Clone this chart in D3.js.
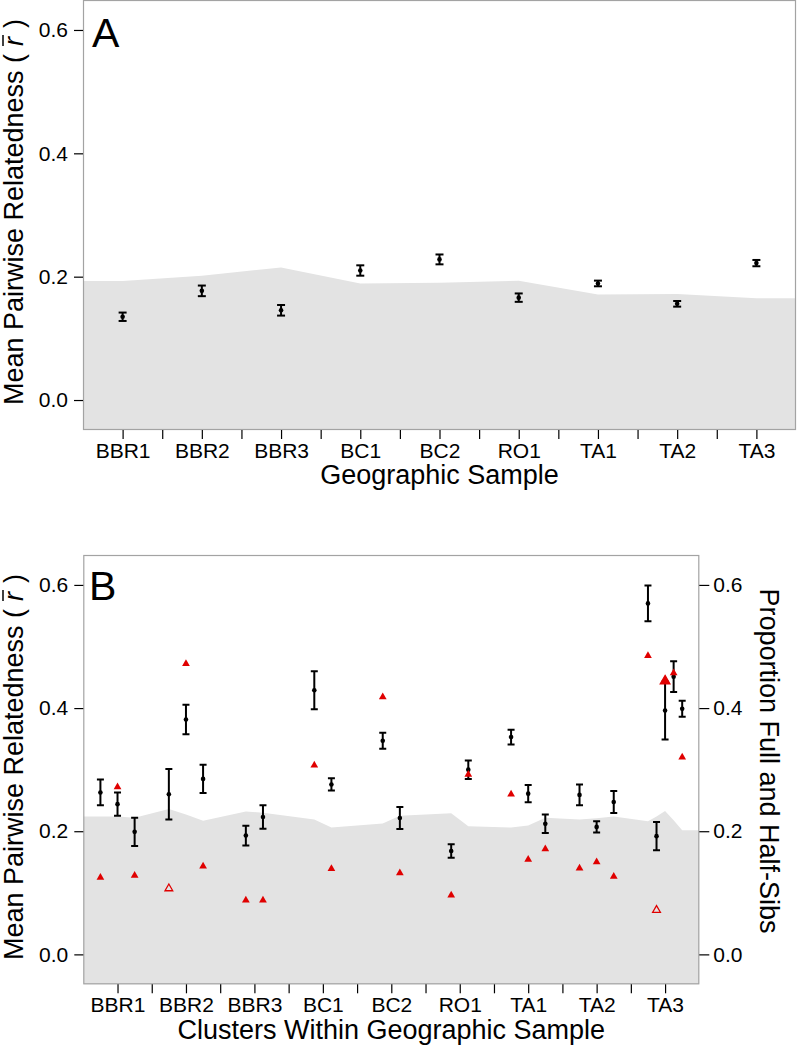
<!DOCTYPE html>
<html><head><meta charset="utf-8">
<script src="https://cdn.jsdelivr.net/npm/d3@7"></script>
<style>
body{margin:0;background:#fff}
svg{display:block}
text{font-family:"Liberation Sans",Arial,Helvetica,sans-serif;fill:#000}
</style>
</head><body>
<svg id="chart" width="797" height="1055"></svg>
<script>
// ---------- data ----------
const geoSamples = ["BBR1","BBR2","BBR3","BC1","BC2","RO1","TA1","TA2","TA3"];
const geoMean = [0.135,0.177,0.1455,0.210,0.228,0.166,0.189,0.156,0.222];
const geoErr = [0.0068,0.0086,0.0086,0.0084,0.008,0.0068,0.0046,0.0046,0.0051];
const geoNullUpper = [0.193,0.2016,0.215,0.189,0.190,0.1935,0.171,0.172,0.165];

const clusterSample = ["BBR1","BBR1","BBR1","BBR2","BBR2","BBR2","BBR3","BBR3","BC1","BC1","BC2","BC2","RO1","RO1","TA1","TA1","TA1","TA2","TA2","TA2","TA3","TA3","TA3","TA3","TA3"];
const clusterOffset = [-0.5,0,0.5,-0.5,0,0.5,-0.25,0.25,-0.25,0.25,-0.25,0.25,-0.25,0.25,-0.5,0,0.5,-0.5,0,0.5,-0.5,-0.25,0,0.25,0.5];
const clusterMean = [0.263,0.244,0.199,0.260,0.3815,0.285,0.193,0.223,0.429,0.276,0.347,0.2215,0.168,0.300,0.353,0.261,0.212,0.259,0.207,0.2475,0.570,0.192,0.396,0.451,0.399];
const clusterErr = [0.021,0.019,0.023,0.041,0.024,0.023,0.016,0.019,0.031,0.010,0.013,0.018,0.011,0.015,0.012,0.014,0.015,0.017,0.009,0.018,0.029,0.023,0.047,0.025,0.013];
const clusterNullUpper = [0.224,0.224,0.222,0.236,0.227,0.217,0.232,0.230,0.219,0.206,0.2125,0.225,0.229,0.208,0.206,0.2095,0.222,0.219,0.221,0.224,0.216,0.224,0.233,0.218,0.2015];
const sibProportion = [0.125,0.272,0.128,0.107,0.472,0.143,0.088,0.088,0.307,0.139,0.418,0.132,0.096,0.292,0.260,0.154,0.171,0.140,0.150,0.1265,0.485,0.072,0.444,0.457,0.320];
const sibMarker = ["filled","filled","filled","open","filled","filled","filled","filled","filled","filled","filled","filled","filled","filled","filled","filled","filled","filled","filled","filled","filled","open","both","filled","filled"];

const yTicks = [0, 0.2, 0.4, 0.6];
const yDomain = [-0.0486, 0.6486];
const xDomain = [0, 18];

// ---------- helpers ----------
const svg = d3.select("#chart");
const RED = "#e00000";
const TICK_FS = 21;
const sampleX = s => 2 * geoSamples.indexOf(s) + 1;
const xTickValues = d3.range(1, 18);
const xTickFormat = v => (v % 2 ? geoSamples[(v - 1) / 2] : "");

function styleAxis(g) {
  g.select(".domain").remove();
  g.selectAll(".tick line").attr("stroke", "#000").attr("stroke-width", 1.2);
  g.selectAll(".tick text").style("font-size", TICK_FS + "px").attr("fill", "#000");
}

function drawPanel(id, x, y, ribbonPts, points, capW) {
  const [x0, x1] = x.range();
  const [yb, yt] = y.range();
  svg.append("clipPath").attr("id", id).append("rect")
    .attr("x", x0).attr("y", yt).attr("width", x1 - x0).attr("height", yb - yt);
  const g = svg.append("g").attr("clip-path", `url(#${id})`);
  const area = d3.area().x(d => x(d.x)).y0(yb + 5).y1(d => y(d.v));
  g.append("path").datum(ribbonPts).attr("d", area).attr("fill", "#e3e3e3");

  const eb = g.selectAll("g.eb").data(points).join("g");
  eb.append("line").attr("x1", d => x(d.x)).attr("x2", d => x(d.x))
    .attr("y1", d => y(d.m - d.e)).attr("y2", d => y(d.m + d.e))
    .attr("stroke", "#000").attr("stroke-width", 2);
  [-1, 1].forEach(s => {
    eb.append("line").attr("x1", d => x(d.x) - capW / 2).attr("x2", d => x(d.x) + capW / 2)
      .attr("y1", d => y(d.m + s * d.e)).attr("y2", d => y(d.m + s * d.e))
      .attr("stroke", "#000").attr("stroke-width", 2);
  });
  eb.append("circle").attr("cx", d => x(d.x)).attr("cy", d => y(d.m)).attr("r", 2.3).attr("fill", "#000");
  return g;
}

function drawFrame(x, y) {
  const [x0, x1] = x.range();
  const [yb, yt] = y.range();
  svg.append("rect").attr("x", x0 + 0.5).attr("y", yt + 0.5)
    .attr("width", x1 - x0 - 1).attr("height", yb - yt - 1)
    .attr("fill", "none").attr("stroke", "#a3a3a3").attr("stroke-width", 1.2);
}

function yTitle(cx, cy) {
  const g = svg.append("g").attr("transform", `translate(${cx},${cy}) rotate(-90)`);
  const t = g.append("text").attr("text-anchor", "middle").style("font-size", "27px");
  const first = "Mean Pairwise Relatedness (";
  t.append("tspan").text(first);
  t.append("tspan").attr("dx", 8).style("font-style", "italic").text("r");
  t.append("tspan").attr("dx", 9).text(")");
  const ext = t.node().getExtentOfChar(first.length);
  g.append("line").attr("x1", ext.x).attr("x2", ext.x + ext.width + 2)
    .attr("y1", -20).attr("y2", -20).attr("stroke", "#000").attr("stroke-width", 1.5);
}

// ---------- Panel A ----------
const xA = d3.scaleLinear().domain(xDomain).range([83, 796]);
const yA = d3.scaleLinear().domain(yDomain).range([430, 0]);
const ribbonA = [{x: xDomain[0], v: geoNullUpper[0]}]
  .concat(geoSamples.map((s, i) => ({x: sampleX(s), v: geoNullUpper[i]})))
  .concat([{x: xDomain[1], v: geoNullUpper[geoNullUpper.length - 1]}]);
const ptsA = geoSamples.map((s, i) => ({x: sampleX(s), m: geoMean[i], e: geoErr[i]}));
drawPanel("clipA", xA, yA, ribbonA, ptsA, 8);
drawFrame(xA, yA);

svg.append("g").attr("transform", "translate(0,430)")
  .call(d3.axisBottom(xA).tickValues(xTickValues).tickFormat(xTickFormat).tickSize(9).tickPadding(4))
  .call(styleAxis);
svg.append("g").attr("transform", "translate(83,0)")
  .call(d3.axisLeft(yA).tickValues(yTicks).tickFormat(d3.format(".1f")).tickSize(9).tickPadding(6))
  .call(styleAxis);
svg.append("text").attr("x", 92).attr("y", 46.5).style("font-size", "41px").text("A");
yTitle(23, 212);
svg.append("text").attr("x", (83 + 796) / 2).attr("y", 484).attr("text-anchor", "middle")
  .style("font-size", "27px").text("Geographic Sample");

// ---------- Panel B ----------
const xB = d3.scaleLinear().domain(xDomain).range([83.3, 699.3]);
const yB = d3.scaleLinear().domain(yDomain).range([984.3, 555]);
const clusterX = clusterSample.map((s, i) => sampleX(s) + clusterOffset[i]);
const ribbonB = [{x: xDomain[0], v: clusterNullUpper[0]}]
  .concat(clusterX.map((cx, i) => ({x: cx, v: clusterNullUpper[i]})))
  .concat([{x: xDomain[1], v: clusterNullUpper[clusterNullUpper.length - 1]}]);
const ptsB = clusterX.map((cx, i) => ({x: cx, m: clusterMean[i], e: clusterErr[i]}));
const gB = drawPanel("clipB", xB, yB, ribbonB, ptsB, 7);

const tri = d3.symbol().type(d3.symbolTriangle);
const sib = clusterX.map((cx, i) => ({x: cx, v: sibProportion[i], k: sibMarker[i]}));
gB.selectAll("path.sib").data(sib).join("path").attr("class", "sib")
  .attr("transform", d => `translate(${xB(d.x)},${yB(d.v)})`)
  .attr("d", d => tri.size(d.k === "both" ? 40 : 26)())
  .attr("fill", d => d.k === "open" ? "none" : RED)
  .attr("stroke", d => d.k === "filled" ? "none" : RED)
  .attr("stroke-width", 1.3);
drawFrame(xB, yB);

svg.append("g").attr("transform", "translate(0,984.3)")
  .call(d3.axisBottom(xB).tickValues(xTickValues).tickFormat(xTickFormat).tickSize(9).tickPadding(4))
  .call(styleAxis);
svg.append("g").attr("transform", "translate(83.3,0)")
  .call(d3.axisLeft(yB).tickValues(yTicks).tickFormat(d3.format(".1f")).tickSize(9).tickPadding(6))
  .call(styleAxis);
svg.append("g").attr("transform", "translate(699.3,0)")
  .call(d3.axisRight(yB).tickValues(yTicks).tickFormat(d3.format(".1f")).tickSize(10).tickPadding(4))
  .call(styleAxis);
svg.append("text").attr("x", 89).attr("y", 600).style("font-size", "41px").text("B");
yTitle(23, 767);
svg.append("text").attr("transform", "translate(760,761) rotate(90)").attr("text-anchor", "middle")
  .style("font-size", "27px").text("Proportion Full and Half-Sibs");
svg.append("text").attr("x", (83.3 + 699.3) / 2).attr("y", 1039).attr("text-anchor", "middle")
  .style("font-size", "27px").text("Clusters Within Geographic Sample");
</script>
</body></html>
